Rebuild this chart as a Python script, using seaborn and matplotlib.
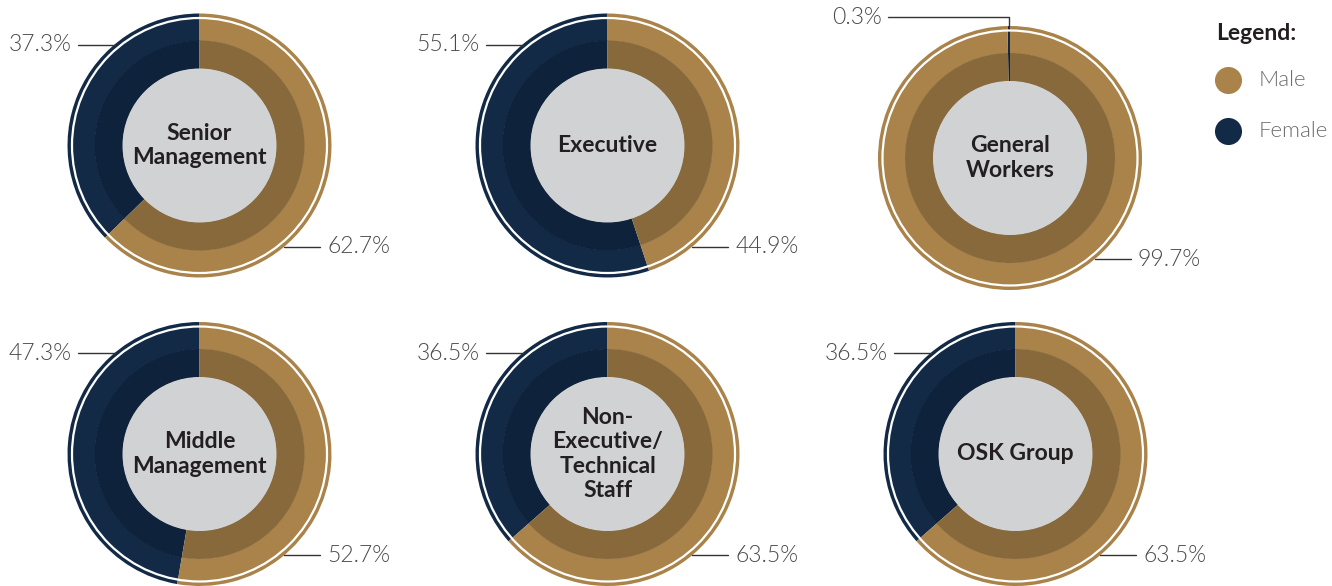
import numpy as np
import matplotlib
matplotlib.use("Agg")
import matplotlib.pyplot as plt
from matplotlib.patches import Circle
import seaborn as sns

# ---- data ----
categories = ["Senior\nManagement", "Executive", "General\nWorkers",
              "Middle\nManagement", "Non-\nExecutive/\nTechnical\nStaff", "OSK Group"]
male = [62.7, 44.9, 99.7, 52.7, 63.5, 63.5]
female = [37.3, 55.1, 0.3, 47.3, 36.5, 36.5]
legend_labels = ["Male", "Female"]

# ---- style ----
sns.set_style("white")
plt.rcParams['font.family'] = ['Lato', 'DejaVu Sans']

MALE_OUT, MALE_IN = "#A9834A", "#87693C"
FEM_OUT, FEM_IN = "#132A47", "#0F223B"
CENTER = "#D1D2D4"
TXT = "#4A4A4A"
LINE = "#333333"
LIGHT = 300

W, H = 1332, 586
fig = plt.figure(figsize=(W / 100, H / 100), dpi=100)
ax = fig.add_axes([0, 0, 1, 1])

# layout (pixel centres, top-left origin)
centers = [(199.5, 145.5), (607.5, 145.5), (1010, 158),
           (199.5, 454), (607.5, 454), (1015.5, 454)]
R, R_IN, R_C = 132, 105, 77
label_dy = 101

for i, (cat, m, f) in enumerate(zip(categories, male, female)):
    cx, cyp = centers[i]
    cy = H - cyp
    ax.pie([f, m], radius=R, center=(cx, cy), startangle=90, counterclock=True,
           colors=[FEM_OUT, MALE_OUT],
           wedgeprops=dict(width=R - R_IN + 0.5, linewidth=0))
    ax.pie([f, m], radius=R_IN, center=(cx, cy), startangle=90, counterclock=True,
           colors=[FEM_IN, MALE_IN],
           wedgeprops=dict(width=R_IN - R_C + 0.5, linewidth=0))
    ax.add_patch(Circle((cx, cy), R_C, color=CENTER, lw=0, zorder=3))
    ax.add_patch(Circle((cx, cy), R - 4.5, fill=False, ec="white", lw=1.6, zorder=3))
    ax.text(cx, cy, cat, ha="center", va="center", fontsize=16.5, fontweight="bold",
            color="#231F20", linespacing=1.2, zorder=4)

    # female label (upper left)
    if f < 2:
        ang = np.deg2rad(90 + f / 100 * 180)
        sx = cx + R * np.cos(ang)
        ly = cy + R + 9
        ax.plot([cx - 122, sx, sx], [ly, ly, cy + R], color=LINE, lw=1, zorder=5)
        ax.text(cx - 128, ly, f"{f}%", ha="right", va="center", fontsize=16.5,
                fontweight=LIGHT, color=TXT)
    else:
        ly = cy + label_dy
        ex = cx - np.sqrt(R ** 2 - label_dy ** 2)
        ax.plot([ex - 37, ex], [ly, ly], color=LINE, lw=1, zorder=5)
        ax.text(ex - 43, ly, f"{f}%", ha="right", va="center", fontsize=16.5,
                fontweight=LIGHT, color=TXT)
    # male label (lower right)
    ly = cy - label_dy
    ex = cx + np.sqrt(R ** 2 - label_dy ** 2)
    ax.plot([ex, ex + 36], [ly, ly], color=LINE, lw=1, zorder=5)
    ax.text(ex + 43, ly, f"{m}%", ha="left", va="center", fontsize=16.5,
            fontweight=LIGHT, color=TXT)

# legend
ax.text(1216, H - 33, "Legend:", ha="left", va="center", fontsize=16.5,
        fontweight="bold", color="#231F20")
for lab, col, yp in zip(legend_labels, [MALE_OUT, FEM_OUT], [80, 131]):
    ax.scatter([1228], [H - yp], s=380, color=col, lw=0)
    ax.text(1259, H - yp, lab, ha="left", va="center", fontsize=16,
            fontweight=LIGHT, color="#6D6E71")

ax.set_xlim(0, W)
ax.set_ylim(0, H)
ax.set_aspect("equal")
ax.axis("off")
fig.savefig("out.png", dpi=100, facecolor="white")
